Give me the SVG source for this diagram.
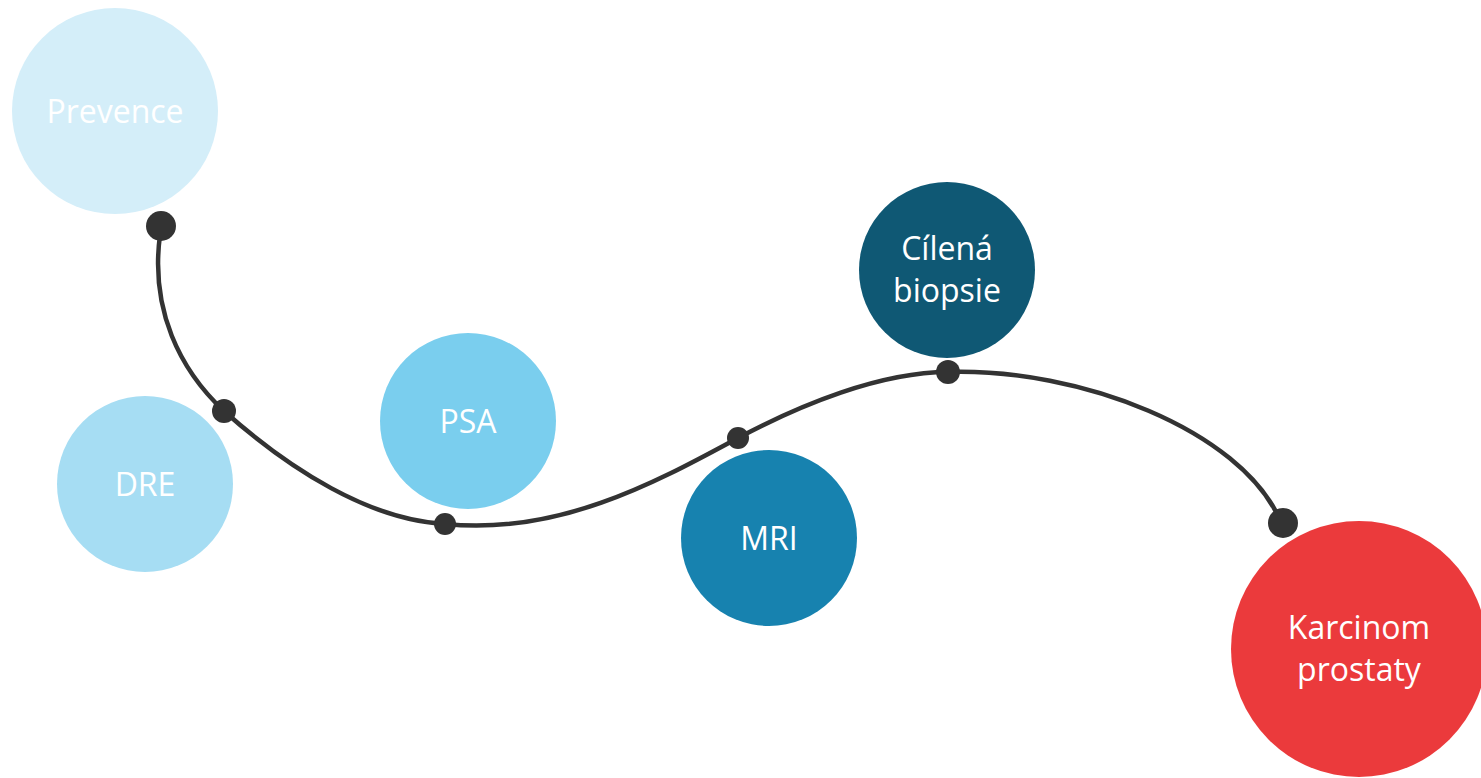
<svg xmlns="http://www.w3.org/2000/svg" width="1481" height="778" viewBox="0 0 1481 778">
<style>
.lbl{font-family:"Open Sans","Noto Sans",sans-serif;font-size:32px;fill:#ffffff;text-anchor:middle}
.line{fill:none;stroke:#333333;stroke-width:4.5;stroke-linecap:round}
.dot{fill:#333333}
</style>
<rect width="1481" height="778" fill="#ffffff"/>
<g id="node-prevence"><circle cx="115" cy="111" r="103" fill="#D4EEF9"/><text class="lbl" x="115" y="123">Prevence</text></g>
<g id="node-dre"><circle cx="145" cy="484" r="88" fill="#A6DDF3"/><text class="lbl" x="145" y="496">DRE</text></g>
<g id="node-psa"><circle cx="468" cy="421" r="88" fill="#7ACEEE"/><text class="lbl" x="468" y="433">PSA</text></g>
<g id="node-mri"><circle cx="769" cy="538" r="88" fill="#1782AF"/><text class="lbl" x="769" y="550">MRI</text></g>
<g id="node-biopsie"><circle cx="947" cy="270" r="88" fill="#0F5874"/><text class="lbl" x="947" y="260">Cílená</text><text class="lbl" x="947" y="302">biopsie</text></g>
<g id="node-karcinom"><circle cx="1359" cy="649" r="128" fill="#EB3A3C"/><text class="lbl" x="1359" y="639">Karcinom</text><text class="lbl" x="1359" y="681">prostaty</text></g>
<g id="connectors">
<path class="line" d="M160,235 C150,310 180,370 224,411 C290,470 370,520 445,524 C560,536 660,480 738,438 C800,405 880,372 948,372 C1080,368 1240,430 1280,520"/>
<ellipse class="dot" cx="161" cy="226" rx="15" ry="15"/>
<circle class="dot" cx="224" cy="411" r="12"/>
<circle class="dot" cx="445" cy="524" r="11"/>
<circle class="dot" cx="738" cy="438" r="11"/>
<circle class="dot" cx="948" cy="372" r="12"/>
<circle class="dot" cx="1283" cy="523" r="15"/>
</g>
</svg>
